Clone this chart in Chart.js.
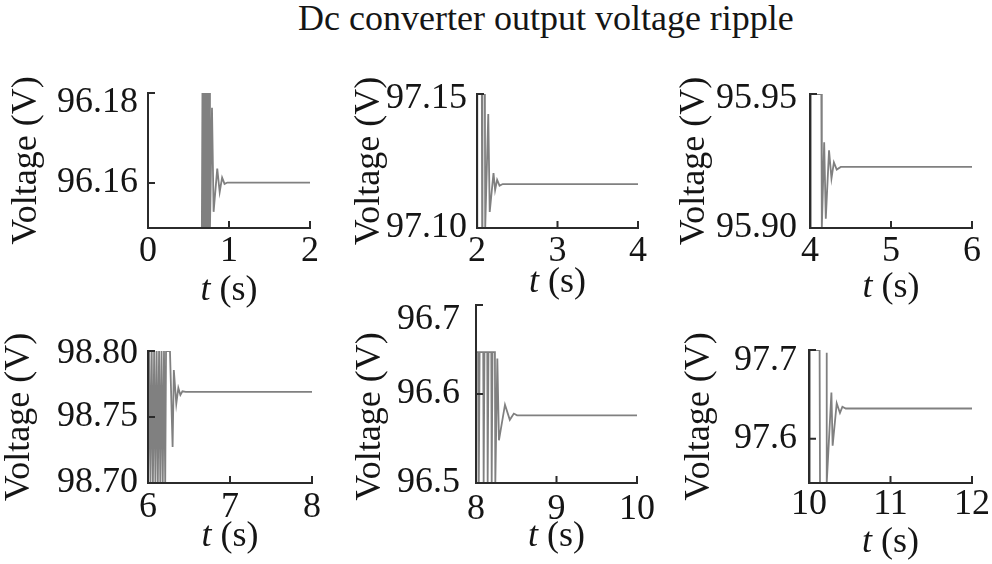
<!DOCTYPE html>
<html lang="en">
<head>
<meta charset="UTF-8">
<title>Dc converter output voltage ripple</title>
<script src="https://cdn.jsdelivr.net/npm/chart.js"></script>
<style>
  body { margin: 0; background: #fff; width: 992px; height: 564px; position: relative; overflow: hidden;
         font-family: "Liberation Serif", "Times New Roman", serif; }
  h1 { position: absolute; left: 298px; top: 0; margin: 0; font-size: 36px; line-height: 36px;
       font-weight: normal; color: #151515; white-space: nowrap; }
  canvas { position: absolute; }
</style>
</head>
<body>
<h1>Dc converter output voltage ripple</h1>
<canvas id="p1" width="330" height="260" style="left:0;top:60px"></canvas>
<canvas id="p2" width="330" height="260" style="left:330px;top:60px"></canvas>
<canvas id="p3" width="332" height="260" style="left:660px;top:60px"></canvas>
<canvas id="p4" width="330" height="274" style="left:0;top:290px"></canvas>
<canvas id="p5" width="330" height="274" style="left:330px;top:290px"></canvas>
<canvas id="p6" width="332" height="274" style="left:660px;top:290px"></canvas>

<script>
// --- data (time in s, voltage in V) ---
// values on the axis limits are the clipped switching bursts
const t1 = [0.665, 0.672, 0.679, 0.686, 0.693, 0.700, 0.707, 0.714, 0.721, 0.728, 0.735, 0.742, 0.749, 0.756, 0.765, 0.790, 0.810, 0.855, 0.885, 0.915, 0.945, 0.980, 2.000];
const v1 = [96.15, 96.18, 96.15, 96.18, 96.15, 96.18, 96.15, 96.18, 96.15, 96.18, 96.15, 96.18, 96.15, 96.18, 96.15, 96.1767, 96.1536, 96.1632, 96.1580, 96.1612, 96.1598, 96.1601, 96.1601];
const xTicks1 = [0, 1, 2];
const yTicks1 = [96.16, 96.18];
const yLabels1 = ['96.16', '96.18'];

const t2 = [2.000, 2.004, 2.060, 2.064, 2.068, 2.098, 2.102, 2.140, 2.158, 2.205, 2.225, 2.250, 2.280, 2.320, 4.000];
const v2 = [97.10, 97.15, 97.15, 97.10, 97.15, 97.15, 97.10, 97.1425, 97.1060, 97.1205, 97.1142, 97.1180, 97.1158, 97.1164, 97.1164];
const xTicks2 = [2, 3, 4];
const yTicks2 = [97.10, 97.15];
const yLabels2 = ['97.10', '97.15'];

const t3 = [4.000, 4.010, 4.140, 4.146, 4.175, 4.195, 4.235, 4.265, 4.295, 4.330, 4.380, 6.000];
const v3 = [95.90, 95.95, 95.95, 95.90, 95.9320, 95.9035, 95.9290, 95.9185, 95.9245, 95.9218, 95.9228, 95.9228];
const xTicks3 = [4, 5, 6];
const yTicks3 = [95.90, 95.95];
const yLabels3 = ['95.90', '95.95'];

const t4 = [6.000, 6.015, 6.030, 6.045, 6.060, 6.075, 6.090, 6.105, 6.120, 6.135, 6.150, 6.165, 6.180, 6.195, 6.210, 6.220, 6.268, 6.300, 6.315, 6.345, 6.370, 6.395, 6.420, 6.460, 8.000];
const v4 = [98.70, 98.80, 98.70, 98.80, 98.70, 98.80, 98.70, 98.80, 98.70, 98.80, 98.70, 98.80, 98.70, 98.80, 98.70, 98.80, 98.80, 98.7273, 98.7856, 98.7600, 98.7720, 98.7667, 98.7695, 98.7690, 98.7690];
const xTicks4 = [6, 7, 8];
const yTicks4 = [98.70, 98.75, 98.80];
const yLabels4 = ['98.70', '98.75', '98.80'];

const t5 = [8.000, 8.005, 8.030, 8.035, 8.045, 8.090, 8.095, 8.105, 8.140, 8.145, 8.155, 8.190, 8.195, 8.205, 8.235, 8.240, 8.265, 8.285, 8.360, 8.420, 8.470, 8.510, 10.000];
const v5 = [96.50, 96.647, 96.647, 96.50, 96.647, 96.647, 96.50, 96.647, 96.647, 96.50, 96.647, 96.647, 96.50, 96.647, 96.647, 96.50, 96.640, 96.548, 96.588, 96.571, 96.578, 96.576, 96.576];
const xTicks5 = [8, 9, 10];
const yTicks5 = [96.5, 96.6, 96.7];
const yLabels5 = ['96.5', '96.6', '96.7'];

const t6 = [10.000, 10.010, 10.130, 10.135, 10.210, 10.215, 10.220, 10.275, 10.290, 10.340, 10.380, 10.410, 10.450, 12.000];
const v6 = [97.55, 97.70, 97.70, 97.55, 97.55, 97.697, 97.55, 97.652, 97.592, 97.640, 97.629, 97.636, 97.634, 97.634];
const xTicks6 = [10, 11, 12];
const yTicks6 = [97.6, 97.7];
const yLabels6 = ['97.6', '97.7'];

const FONT = '"Liberation Serif", "Times New Roman", serif';
const AXIS = '#2b2b2b';
const TRACE = '#808080';
const TEXT = '#151515';
const TICK = 7;

// MATLAB-style inward tick marks + "t (s)" label with italic t
const inwardTicks = {
  id: 'inwardTicks',
  afterDraw(chart, args, opts) {
    const {ctx, chartArea: a, scales: {x, y}} = chart;
    ctx.save();
    ctx.strokeStyle = AXIS;
    ctx.lineWidth = 2;
    ctx.beginPath();
    x.ticks.forEach(t => {
      const px = x.getPixelForValue(t.value);
      ctx.moveTo(px, a.bottom);
      ctx.lineTo(px, a.bottom - TICK);
    });
    y.ticks.forEach(t => {
      const py = y.getPixelForValue(t.value);
      ctx.moveTo(a.left, py);
      ctx.lineTo(a.left + TICK, py);
    });
    ctx.stroke();

    const italic = 'italic 36px ' + FONT, upright = '36px ' + FONT;
    ctx.fillStyle = TEXT;
    ctx.textBaseline = 'middle';
    ctx.textAlign = 'left';
    ctx.font = italic;
    const w1 = ctx.measureText('t').width;
    ctx.font = upright;
    const w2 = ctx.measureText(' (s)').width;
    const sx = (a.left + a.right) / 2 - (w1 + w2) / 2;
    const cy = a.bottom + opts.titleGap;
    ctx.font = italic;
    ctx.fillText('t', sx, cy);
    ctx.font = upright;
    ctx.fillText(' (s)', sx + w1, cy);
    ctx.restore();
  }
};

function panel(id, t, v, xTicks, yTicks, yLabels, yMin, yMax, box) {
  const top = yTicks.length - 1;
  new Chart(document.getElementById(id), {
    type: 'line',
    data: {
      datasets: [{
        data: t.map((x, i) => ({x: x, y: v[i]})),
        borderColor: TRACE,
        borderWidth: 1.8,
        pointRadius: 0,
        tension: 0
      }]
    },
    options: {
      responsive: false,
      animation: false,
      events: [],
      layout: {padding: {top: box.padTop, right: box.padRight, left: 0, bottom: 0}},
      plugins: {
        legend: {display: false},
        tooltip: {enabled: false},
        inwardTicks: {titleGap: box.xTitleGap}
      },
      scales: {
        x: {
          type: 'linear',
          min: xTicks[0],
          max: xTicks[xTicks.length - 1],
          afterBuildTicks: s => { s.ticks = xTicks.map(value => ({value})); },
          afterFit: s => { s.height = box.xHeight; s.paddingLeft = 0; s.paddingRight = 0; },
          grid: {display: false, drawTicks: false},
          border: {display: true, color: AXIS, width: 2, z: 1},
          ticks: {
            autoSkip: false, maxRotation: 0, padding: box.xTickPad, color: TEXT,
            font: {family: FONT, size: 36, lineHeight: 1},
            callback: val => String(val)
          }
        },
        y: {
          min: yMin,
          max: yMax,
          afterBuildTicks: s => { s.ticks = yTicks.map(value => ({value})); },
          afterFit: s => { s.width = box.yWidth; s.paddingTop = 0; s.paddingBottom = 0; },
          grid: {display: false, drawTicks: false},
          border: {display: true, color: AXIS, width: 2, z: 1},
          ticks: {
            autoSkip: false, padding: box.yTickPad, color: TEXT,
            // top label sits a little below its tick in the figure
            font: c => ({family: FONT, size: 36, lineHeight: c.index === top ? (2 * box.topShift) + 'px' : 1}),
            callback: (val, i) => i === top ? ['', yLabels[i]] : yLabels[i]
          },
          title: {
            display: true,
            text: box.yTitle || 'Voltage (V)',
            color: TEXT,
            font: {family: FONT, size: 36, lineHeight: 1},
            padding: {top: box.yTitlePad, bottom: 0}
          }
        }
      }
    },
    plugins: [inwardTicks]
  });
}

panel('p1', t1, v1, xTicks1, yTicks1, yLabels1, 96.15, 96.18,
  {padTop: 33, padRight: 20, yWidth: 148, xHeight: 92, yTitlePad: 9, yTickPad: 10, xTickPad: 6, xTitleGap: 63, topShift: 10});
panel('p2', t2, v2, xTicks2, yTicks2, yLabels2, 97.10, 97.15,
  {padTop: 34, padRight: 22, yWidth: 147, xHeight: 92, yTitlePad: 22, yTickPad: 10, xTickPad: 6, xTitleGap: 55, topShift: 5});
panel('p3', t3, v3, xTicks3, yTicks3, yLabels3, 95.90, 95.95,
  {padTop: 34, padRight: 20, yWidth: 150, xHeight: 92, yTitlePad: 17, yTickPad: 13, xTickPad: 6, xTitleGap: 60, topShift: 5});
panel('p4', t4, v4, xTicks4, yTicks4, yLabels4, 98.70, 98.80,
  {padTop: 61, padRight: 18, yWidth: 148, xHeight: 81, yTitlePad: 2, yTickPad: 10, xTickPad: 7, xTitleGap: 54, topShift: 3});
panel('p5', t5, v5, xTicks5, yTicks5, yLabels5, 96.5, 96.7,
  {padTop: 15, padRight: 23, yWidth: 146, xHeight: 81, yTitlePad: 23, yTickPad: 16, xTickPad: 9, xTitleGap: 54, topShift: 15,
   yTitle: 'Voltage (V)     '});
panel('p6', t6, v6, xTicks6, yTicks6, yLabels6, 97.55, 97.70,
  {padTop: 60, padRight: 20, yWidth: 149, xHeight: 81, yTitlePad: 22, yTickPad: 12, xTickPad: 4, xTitleGap: 60, topShift: 11});
</script>
</body>
</html>
